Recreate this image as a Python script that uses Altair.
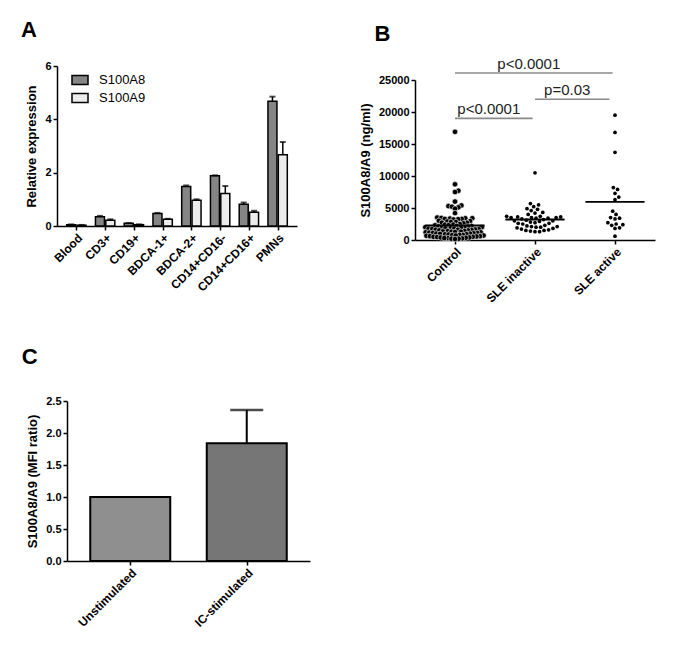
import json
import altair as alt
import numpy as np
import pandas as pd

FONT = "Liberation Sans"

# ---------------- Panel A data ----------------
cells = ["Blood", "CD3+", "CD19+", "BDCA-1+", "BDCA-2+", "CD14+CD16-", "CD14+CD16+", "PMNs"]
s100a8 = [0.05, 0.35, 0.10, 0.47, 1.48, 1.88, 0.82, 4.68]
s100a8_err = [0.01, 0.03, 0.01, 0.02, 0.04, 0.02, 0.06, 0.17]
s100a9 = [0.03, 0.22, 0.05, 0.25, 0.97, 1.22, 0.52, 2.67]
s100a9_err = [0.01, 0.03, 0.01, 0.02, 0.03, 0.28, 0.05, 0.48]
proteins = ["S100A8", "S100A9"]

# ---------------- Panel B data ----------------
groups = ["Control", "SLE inactive", "SLE active"]
control = [16900, 8700, 7700, 7500, 6000, 5400, 5300, 5200, 5100, 4900, 4200,
           3500, 3450, 3400, 3400, 3350, 3300, 3300, 3250, 3200,
           3000, 2950, 2900, 2800, 2800, 2700, 2700, 2600,
           2500, 2400, 2400, 2300, 2300, 2200, 2200, 2100, 2100, 2000, 2000, 2000,
           1900, 1900, 1850, 1800, 1800, 1750, 1700, 1700, 1650, 1600, 1600, 1550, 1500, 1500,
           1400, 1400, 1350, 1300, 1300, 1250, 1200, 1200, 1150, 1100, 1100, 1050, 1000, 1000,
           950, 900, 900, 850, 800, 800, 750, 700, 700, 650, 600, 600, 550, 500, 500,
           450, 400, 400, 350, 300, 300, 250, 200, 200, 150]
sle_inactive = [10500, 5700, 5500, 5200, 4900, 4800, 4600, 4300, 4200, 4000,
                3700, 3700, 3600, 3600, 3500, 3500, 3500, 3400, 3400, 3300,
                3200, 3100, 3000, 3000, 2900, 2800, 2700, 2600, 2600, 2500,
                2300, 2200, 2100, 2100, 2000, 2000, 1900, 1800, 1700, 1600,
                1500, 1500, 1400, 1300, 1300]
sle_active = [19500, 16800, 13700, 8200, 7900, 7300, 6700, 6300, 4500, 4000,
              3500, 3400, 3300, 2700, 2500, 2400, 2300, 1900, 1800, 600]
sig_from = [0, 0, 1]
sig_to = [1.97, 0.97, 1.93]
sig_level = [26100, 19000, 22000]
sig_text = ["p<0.0001", "p<0.0001", "p=0.03"]

# ---------------- Panel C data ----------------
conditions = ["Unstimulated", "IC-stimulated"]
mfi_ratio = [1.0, 1.84]
mfi_err = [0.0, 0.52]

AX = dict(grid=False, domainColor="black", domainWidth=1.5, tickColor="black", tickWidth=1.5,
          tickSize=4, labelFont=FONT, labelFontSize=11, labelFontWeight="bold", labelColor="black",
          titleFont=FONT, titleFontSize=13, titleFontWeight="bold", titleColor="black",
          labelPadding=2, titlePadding=6, labelOverlap=False)


def xaxis(labels):
    ax = dict(AX)
    ax["labelFontSize"] = 12
    return alt.Axis(title=None, values=list(range(len(labels))), labelAngle=-45,
                    labelExpr=json.dumps(labels) + "[datum.value]", **ax)


# ---------------- Panel A ----------------
rows = []
for i, c in enumerate(cells):
    for p, vals, errs, off in (("S100A8", s100a8, s100a8_err, -0.18), ("S100A9", s100a9, s100a9_err, 0.18)):
        rows.append({"cell": c, "idx": i, "pos": i + off, "protein": p,
                     "value": vals[i], "top": vals[i] + errs[i]})
dfa = pd.DataFrame(rows)

xa_scale = alt.Scale(domain=[-0.5, 7.5], nice=False, zero=False)
ya_scale = alt.Scale(domain=[0, 6], nice=False)
ya_axis = alt.Axis(title="Relative expression", values=[0, 2, 4, 6], **AX)

bars_a = alt.Chart(dfa).mark_bar(size=9, stroke="black", strokeWidth=1.5).encode(
    x=alt.X("pos:Q", scale=xa_scale, axis=xaxis(cells)),
    y=alt.Y("value:Q", scale=ya_scale, axis=ya_axis),
    fill=alt.Fill("protein:N", scale=alt.Scale(domain=proteins, range=["#858585", "#ececec"]),
                  legend=alt.Legend(title=None, orient="none", legendX=14, legendY=5,
                                    symbolType="M-1,-0.55L1,-0.55L1,0.55L-1,0.55Z",
                                    symbolSize=256, symbolStrokeColor="black",
                                    symbolStrokeWidth=1.5, labelFontSize=13,
                                    labelFont=FONT, labelColor="black", rowPadding=1,
                                    labelOffset=10)))
err_a = alt.Chart(dfa).mark_rule(strokeWidth=1.5, color="black").encode(
    x=alt.X("pos:Q", scale=xa_scale, axis=xaxis(cells)),
    y=alt.Y("value:Q", scale=ya_scale, axis=ya_axis), y2="top:Q")
cap_a = alt.Chart(dfa).mark_tick(orient="horizontal", size=6, thickness=2, color="black").encode(
    x=alt.X("pos:Q", scale=xa_scale, axis=xaxis(cells)),
    y=alt.Y("top:Q", scale=ya_scale, axis=ya_axis))
panel_a = alt.layer(bars_a, err_a, cap_a).properties(
    width=240, height=160,
    title=alt.TitleParams("A", anchor="start", fontSize=22, fontWeight="bold", font=FONT,
                          dx=-5, offset=18, color="black"))


# ---------------- Panel B ----------------
def swarm(vals, d, px_per_val, px_per_unit):
    ys = np.asarray(vals, dtype=float) * px_per_val
    order = np.argsort(ys)
    placed = []
    xs = np.zeros(len(vals))
    for i in order:
        y = ys[i]
        cands = [0.0]
        for (px, py) in placed:
            dy = abs(py - y)
            if dy < d:
                dx = np.sqrt(d * d - dy * dy)
                cands += [px + dx, px - dx]
        cands = sorted(cands, key=abs)
        for c in cands:
            if all((c - px) ** 2 + (y - py) ** 2 >= d * d - 1e-6 for px, py in placed):
                xs[i] = c
                break
        placed.append((xs[i], y))
    return xs / px_per_unit


rows = []
for gi, (g, vals, dd) in enumerate(zip(groups, [control, sle_inactive, sle_active], [3.6, 4.6, 4.6])):
    offs = swarm(vals, dd, 160 / 25000, 80)
    for v, o in zip(vals, offs):
        rows.append({"group": g, "idx": gi, "value": v, "xpos": gi + o})
dfb = pd.DataFrame(rows)

xb_scale = alt.Scale(domain=[-0.5, 2.5], nice=False, zero=False)
yb_scale = alt.Scale(domain=[0, 25000], nice=False, range=[174, 14])
yb_axis = alt.Axis(title="S100A8/A9 (ng/ml)", values=[0, 5000, 10000, 15000, 20000, 25000],
                   format="d", **AX)


def xb(f):
    return alt.X(f, scale=xb_scale, axis=xaxis(groups))


def yb(f):
    return alt.Y(f, scale=yb_scale, axis=yb_axis)


pts_ctrl = alt.Chart(dfb[dfb.group == "Control"]).mark_circle(
    size=30, color="black", opacity=1, stroke="white", strokeWidth=0.6).encode(
    x=xb("xpos:Q"), y=yb("value:Q"))
pts_sle = alt.Chart(dfb[dfb.group != "Control"]).mark_circle(
    size=14, color="black", opacity=1).encode(x=xb("xpos:Q"), y=yb("value:Q"))
mean_b = alt.Chart(dfb).transform_aggregate(
    value="mean(value)", groupby=["idx"]
).transform_calculate(
    x1="datum.idx - 0.37", x2="datum.idx + 0.37"
).mark_rule(strokeWidth=1.8, color="black").encode(x=xb("x1:Q"), x2="x2:Q", y=yb("value:Q"))

dfs = pd.DataFrame({"x1": sig_from, "x2": sig_to, "value": sig_level, "label": sig_text})
dfs["mid"] = (dfs["x1"] + dfs["x2"]) / 2
sig_lines = alt.Chart(dfs).mark_rule(strokeWidth=1.6, color="#8a8a8a").encode(
    x=xb("x1:Q"), x2="x2:Q", y=yb("value:Q"))
sig_labels = alt.Chart(dfs).mark_text(fontSize=15, font=FONT, baseline="bottom", dy=-1, dx=-5,
                                      color="#222222").encode(
    x=xb("mid:Q"), y=yb("value:Q"), text="label:N")
panel_b = alt.layer(pts_ctrl, pts_sle, mean_b, sig_lines, sig_labels).properties(
    width=240, height=174,
    title=alt.TitleParams("B", anchor="start", fontSize=22, fontWeight="bold", font=FONT,
                          dx=15, offset=11, color="black"))

# ---------------- Panel C ----------------
dfc = pd.DataFrame({"cond": conditions, "idx": [0, 1], "value": mfi_ratio,
                    "top": [v + e for v, e in zip(mfi_ratio, mfi_err)],
                    "shade": ["#8f8f8f", "#767676"]})
xc_scale = alt.Scale(domain=[-0.5, 1.5], nice=False, zero=False, range=[10, 253])
yc_scale = alt.Scale(domain=[0, 2.5], nice=False)
yc_axis = alt.Axis(title="S100A8/A9 (MFI ratio)", values=[0, 0.5, 1, 1.5, 2, 2.5], format=".1f",
                   offset=-10, **AX)
bars_c = alt.Chart(dfc).mark_bar(size=80, stroke="black", strokeWidth=2).encode(
    x=alt.X("idx:Q", scale=xc_scale, axis=xaxis(conditions)),
    y=alt.Y("value:Q", scale=yc_scale, axis=yc_axis),
    fill=alt.Fill("shade:N", scale=None))
dfc_err = dfc[dfc["top"] > dfc["value"]]
err_c = alt.Chart(dfc_err).mark_rule(strokeWidth=2, color="black").encode(
    x=alt.X("idx:Q", scale=xc_scale, axis=xaxis(conditions)),
    y=alt.Y("value:Q", scale=yc_scale, axis=yc_axis), y2="top:Q")
cap_c = alt.Chart(dfc_err).mark_tick(orient="horizontal", size=33, thickness=2.5, color="black").encode(
    x=alt.X("idx:Q", scale=xc_scale, axis=xaxis(conditions)),
    y=alt.Y("top:Q", scale=yc_scale, axis=yc_axis))
panel_c = alt.layer(bars_c, err_c, cap_c).properties(
    width=253, height=160,
    title=alt.TitleParams("C", anchor="start", fontSize=22, fontWeight="bold", font=FONT,
                          dx=-5, offset=26, color="black"))

top = alt.hconcat(panel_a, panel_b, spacing=62)
chart = alt.vconcat(top, panel_c, spacing=41).resolve_scale(fill="independent").properties(
    padding={"left": 12, "top": 11, "right": 5, "bottom": 5}
).configure_view(stroke=None)

chart.save("out.html", embed_options={"renderer": "svg", "actions": False})
